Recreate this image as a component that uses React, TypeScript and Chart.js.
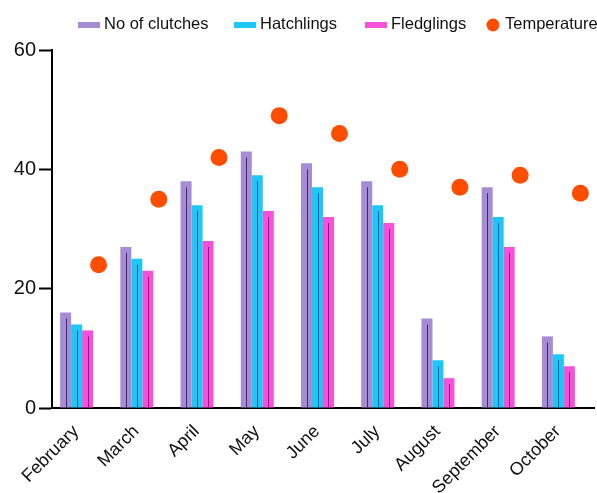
import React, { useEffect, useRef } from "react";
import { Chart, registerables } from "chart.js";

Chart.register(...registerables);

const months = ["February", "March", "April", "May", "June", "July", "August", "September", "October"];
const clutches = [16, 27, 38, 43, 41, 38, 15, 37, 12];
const hatchlings = [14, 25, 34, 39, 37, 34, 8, 32, 9];
const fledglings = [13, 23, 28, 33, 32, 31, 5, 27, 7];
const temperature = [24, 35, 42, 49, 46, 40, 37, 39, 36];
const yTicks = [0, 20, 40, 60];
const legendLabels = ["No of clutches", "Hatchlings", "Fledglings", "Temperature"];

const PURPLE = "#a68bd5";
const CYAN = "#1dc7f6";
const MAGENTA = "#f651d8";
const ORANGE = "#ff4d00";
const FONT = "'Liberation Sans', Arial, sans-serif";

const innerLinesPlugin = {
  id: "innerLines",
  afterDatasetsDraw(chart: any) {
    const ctx = chart.ctx;
    const colors = ["#3d2a66", "#15569a", "#86207a"];
    for (let d = 0; d < 3; d++) {
      const meta = chart.getDatasetMeta(d);
      meta.data.forEach((bar: any) => {
        const top = bar.y + 6;
        const base = bar.base;
        if (base - top < 12) return;
        ctx.save();
        ctx.strokeStyle = colors[d];
        ctx.lineWidth = 1;
        ctx.beginPath();
        ctx.moveTo(Math.round(bar.x) + 0.5, top);
        ctx.lineTo(Math.round(bar.x) + 0.5, base);
        ctx.stroke();
        ctx.restore();
      });
    }
  },
};

const dotsPlugin = {
  id: "tempDots",
  afterDatasetsDraw(chart: any) {
    const ctx = chart.ctx;
    const meta = chart.getDatasetMeta(3);
    meta.data.forEach((bar: any) => {
      ctx.save();
      ctx.fillStyle = ORANGE;
      ctx.beginPath();
      ctx.arc(bar.x, bar.y, 8.5, 0, Math.PI * 2);
      ctx.fill();
      ctx.restore();
    });
  },
};

const legendPlugin = {
  id: "customLegend",
  afterDraw(chart: any) {
    const ctx = chart.ctx;
    const colors = [PURPLE, CYAN, MAGENTA, ORANGE];
    const starts = [78, 234, 365, 487];
    ctx.save();
    ctx.font = `16.5px ${FONT}`;
    ctx.textBaseline = "middle";
    const y = 24;
    legendLabels.forEach((label, i) => {
      const x = starts[i];
      ctx.fillStyle = colors[i];
      let tx;
      if (i < 3) {
        ctx.fillRect(x, y - 2, 22, 6);
        tx = x + 26;
      } else {
        ctx.beginPath();
        ctx.arc(x + 6, y + 1, 6.5, 0, Math.PI * 2);
        ctx.fill();
        tx = x + 18;
      }
      ctx.fillStyle = "#111";
      ctx.fillText(label, tx, y);
    });
    ctx.restore();
  },
};

export default function App() {
  const ref = useRef<HTMLCanvasElement>(null);
  useEffect(() => {
    document.body.style.margin = "0";
    const chart = new Chart(ref.current!, {
      type: "bar",
      data: {
        labels: months,
        datasets: [
          { label: legendLabels[0], data: clutches, backgroundColor: PURPLE },
          { label: legendLabels[1], data: hatchlings, backgroundColor: CYAN },
          { label: legendLabels[2], data: fledglings, backgroundColor: MAGENTA },
          { label: legendLabels[3], data: temperature, backgroundColor: "rgba(0,0,0,0)" },
        ],
      },
      options: {
        animation: false,
        responsive: false,
        datasets: { bar: { categoryPercentage: 0.73, barPercentage: 1 } },
        layout: { padding: { top: 50, right: 3, left: 0, bottom: 0 } },
        plugins: { legend: { display: false }, tooltip: { enabled: false } },
        scales: {
          x: {
            border: { color: "#000", width: 2 },
            grid: { display: true, drawOnChartArea: false, drawTicks: false },
            ticks: {
              maxRotation: 45,
              minRotation: 45,
              autoSkip: false,
              padding: 13,
              labelOffset: -6,
              color: "#111",
              font: { size: 18, family: FONT },
            },
            afterFit: (s: any) => {
              s.height = 85;
            },
          },
          y: {
            min: 0,
            max: 60,
            border: { color: "#000", width: 2 },
            grid: { drawOnChartArea: false, drawTicks: true, tickLength: 13, tickColor: "#000", tickWidth: 2 },
            afterBuildTicks: (s: any) => {
              s.ticks = yTicks.map((v) => ({ value: v }));
            },
            ticks: {
              padding: 3,
              color: "#111",
              font: { size: 20, family: FONT },
            },
            afterFit: (s: any) => {
              s.width = 52;
            },
          },
        },
      },
      plugins: [innerLinesPlugin, dotsPlugin, legendPlugin],
    });
    return () => chart.destroy();
  }, []);
  return (
    <div style={{ width: 597, height: 493 }}>
      <canvas ref={ref} width={597} height={493} style={{ display: "block" }} />
    </div>
  );
}
